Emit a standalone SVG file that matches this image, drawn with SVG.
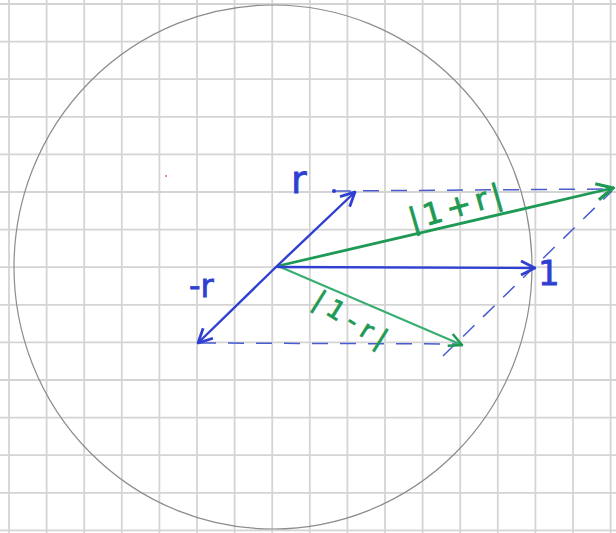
<svg xmlns="http://www.w3.org/2000/svg" width="616" height="533" viewBox="0 0 616 533">
  <defs>
    <style>
      .grid line { stroke: #d4d4d4; stroke-width: 1.8; }
      .blue { stroke: #2f3fd2; stroke-width: 2.4; fill: none; stroke-linecap: round; }
      .dash { stroke: #4a5bd0; stroke-width: 1.5; fill: none; stroke-dasharray: 16 12; }
      .g1 { stroke: #1f9a55; stroke-width: 2.8; fill: none; stroke-linecap: round; }
      .g2 { stroke: #3aae70; stroke-width: 2.2; fill: none; stroke-linecap: round; }
      .lblB { fill: #2f3fd2; stroke: #2f3fd2; stroke-width: 0.8; font-family: "DejaVu Sans", sans-serif; }
      .lblG { fill: #1e9a55; stroke: #1e9a55; stroke-width: 0.8; font-family: "DejaVu Sans", sans-serif; }
    </style>
    <marker id="ab" viewBox="0 0 12 12" refX="11" refY="6" markerWidth="7" markerHeight="7" markerUnits="strokeWidth" orient="auto">
      <path d="M1,1 L11,6 L1,11" fill="none" stroke="#2f3fd2" stroke-width="2"/>
    </marker>
    <marker id="ag" viewBox="0 0 12 12" refX="11" refY="6" markerWidth="7" markerHeight="7" markerUnits="strokeWidth" orient="auto">
      <path d="M1,1 L11,6 L1,11" fill="none" stroke="#1f9a55" stroke-width="2"/>
    </marker>
  </defs>
  <rect width="616" height="533" fill="#ffffff"/>
  <g class="grid">
    <line x1="9" y1="0" x2="9" y2="533"/>
    <line x1="46.6" y1="0" x2="46.6" y2="533"/>
    <line x1="84.2" y1="0" x2="84.2" y2="533"/>
    <line x1="121.8" y1="0" x2="121.8" y2="533"/>
    <line x1="159.4" y1="0" x2="159.4" y2="533"/>
    <line x1="197" y1="0" x2="197" y2="533"/>
    <line x1="234.6" y1="0" x2="234.6" y2="533"/>
    <line x1="272.2" y1="0" x2="272.2" y2="533"/>
    <line x1="309.8" y1="0" x2="309.8" y2="533"/>
    <line x1="347.4" y1="0" x2="347.4" y2="533"/>
    <line x1="385" y1="0" x2="385" y2="533"/>
    <line x1="422.6" y1="0" x2="422.6" y2="533"/>
    <line x1="460.2" y1="0" x2="460.2" y2="533"/>
    <line x1="497.8" y1="0" x2="497.8" y2="533"/>
    <line x1="535.4" y1="0" x2="535.4" y2="533"/>
    <line x1="573" y1="0" x2="573" y2="533"/>
    <line x1="610.6" y1="0" x2="610.6" y2="533"/>
    <line x1="0" y1="4" x2="616" y2="4"/>
    <line x1="0" y1="41.6" x2="616" y2="41.6"/>
    <line x1="0" y1="79.2" x2="616" y2="79.2"/>
    <line x1="0" y1="116.8" x2="616" y2="116.8"/>
    <line x1="0" y1="154.4" x2="616" y2="154.4"/>
    <line x1="0" y1="192" x2="616" y2="192"/>
    <line x1="0" y1="229.6" x2="616" y2="229.6"/>
    <line x1="0" y1="267.2" x2="616" y2="267.2"/>
    <line x1="0" y1="304.8" x2="616" y2="304.8"/>
    <line x1="0" y1="342.4" x2="616" y2="342.4"/>
    <line x1="0" y1="380" x2="616" y2="380"/>
    <line x1="0" y1="417.6" x2="616" y2="417.6"/>
    <line x1="0" y1="455.2" x2="616" y2="455.2"/>
    <line x1="0" y1="492.8" x2="616" y2="492.8"/>
    <line x1="0" y1="530.4" x2="616" y2="530.4"/>
  </g>
  <g id="circle">
    <ellipse cx="273" cy="267" rx="259" ry="262" fill="none" stroke="#8c8c8c" stroke-width="1.2"/>
  </g>
  <circle cx="166" cy="176" r="1" fill="#e06070"/>
  <g id="connectors">
    <line class="dash" x1="335" y1="191" x2="610" y2="189"/>
    <line class="dash" x1="200" y1="343" x2="460" y2="344"/>
    <line class="dash" x1="443" y1="356" x2="612" y2="191"/>
    <circle cx="334" cy="191" r="2" fill="#2f3fd2"/>
    <line class="g1" x1="278" y1="266" x2="613" y2="188" marker-end="url(#ag)"/>
    <line class="g2" x1="278" y1="266" x2="462" y2="345" marker-end="url(#ag)"/>
    <line class="blue" x1="276" y1="267" x2="355" y2="192" marker-end="url(#ab)"/>
    <line class="blue" x1="276" y1="267" x2="198" y2="343" marker-end="url(#ab)"/>
    <line class="blue" x1="278" y1="267" x2="535" y2="268" marker-end="url(#ab)"/>
  </g>
  <g id="label-r"><text class="lblB" x="291" y="193" font-size="38">r</text></g>
  <g id="label-neg-r"><text class="lblB" x="189" y="297" font-size="32">-r</text></g>
  <g id="label-1"><text class="lblB" x="538" y="285" font-size="34">1</text></g>
  <g id="label-1plusr"><text class="lblG" transform="translate(412,230) rotate(-16)" font-size="30" textLength="96" lengthAdjust="spacing">|1+r|</text></g>
  <g id="label-1minusr"><text class="lblG" transform="translate(311,305) rotate(32)" font-size="26" textLength="82" lengthAdjust="spacing">|1-r|</text></g>
</svg>
